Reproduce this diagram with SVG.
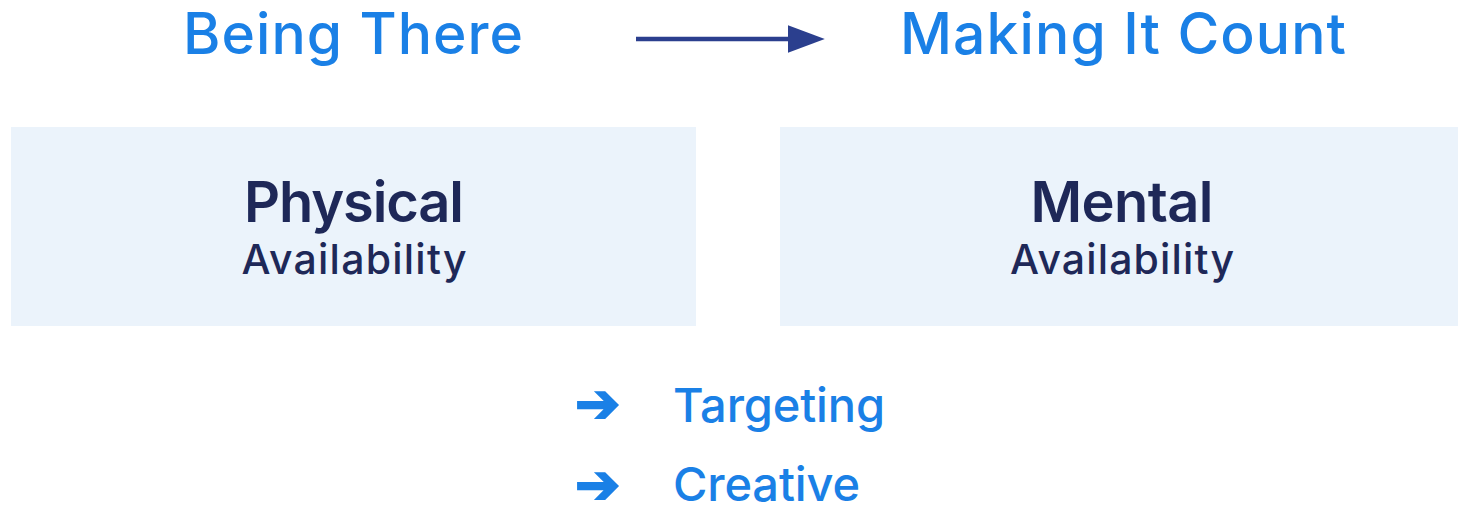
<svg xmlns="http://www.w3.org/2000/svg" width="1458" height="508" viewBox="0 0 1458 508">
  <style>
    .head { font-family: "Inter", "Noto Sans", sans-serif; font-weight: 500; fill: #1a80e6; font-size: 57px; }
    .box { fill: #ebf3fb; }
    .title { font-family: "Inter", "Noto Sans", sans-serif; font-weight: 600; fill: #1e2858; font-size: 56px; text-anchor: middle; }
    .sub { font-family: "Inter", "Noto Sans", sans-serif; font-weight: 500; fill: #1e2858; font-size: 41px; text-anchor: middle; }
    .item { font-family: "Inter", "Noto Sans", sans-serif; font-weight: 500; fill: #1a80e6; font-size: 47px; }
    .bullet { font-family: "DejaVu Sans", sans-serif; fill: #1a80e6; stroke: #1a80e6; stroke-width: 2; font-size: 54px; }
  </style>
  <defs>
    <marker id="arrowhead" markerWidth="8" markerHeight="6" refX="0" refY="3" orient="auto" markerUnits="strokeWidth">
      <path d="M0,0 L8,3 L0,6 Z" fill="#2b3f8e"/>
    </marker>
  </defs>

  <g id="being-there">
    <text class="head" x="183" y="54" textLength="340">Being There</text>
  </g>
  <g id="making-it-count">
    <text class="head" x="900" y="54" textLength="446">Making It Count</text>
  </g>

  <g id="connectors">
    <line x1="636" y1="39" x2="788" y2="39" stroke="#2b3f8e" stroke-width="4.6" marker-end="url(#arrowhead)"/>
  </g>

  <g id="physical">
    <rect class="box" x="11" y="127" width="685" height="199"/>
    <text class="title" x="354" y="222" textLength="220">Physical</text>
    <text class="sub" x="354" y="274" textLength="225">Availability</text>
  </g>
  <g id="mental">
    <rect class="box" x="780" y="127" width="678" height="199"/>
    <text class="title" x="1122" y="222" textLength="183">Mental</text>
    <text class="sub" x="1122" y="274" textLength="224">Availability</text>
  </g>

  <g id="targeting">
    <text class="bullet" x="575" y="422">➔</text>
    <text class="item" x="673" y="422" textLength="212">Targeting</text>
  </g>
  <g id="creative">
    <text class="bullet" x="575" y="503">➔</text>
    <text class="item" x="673" y="501" textLength="187">Creative</text>
  </g>
</svg>
